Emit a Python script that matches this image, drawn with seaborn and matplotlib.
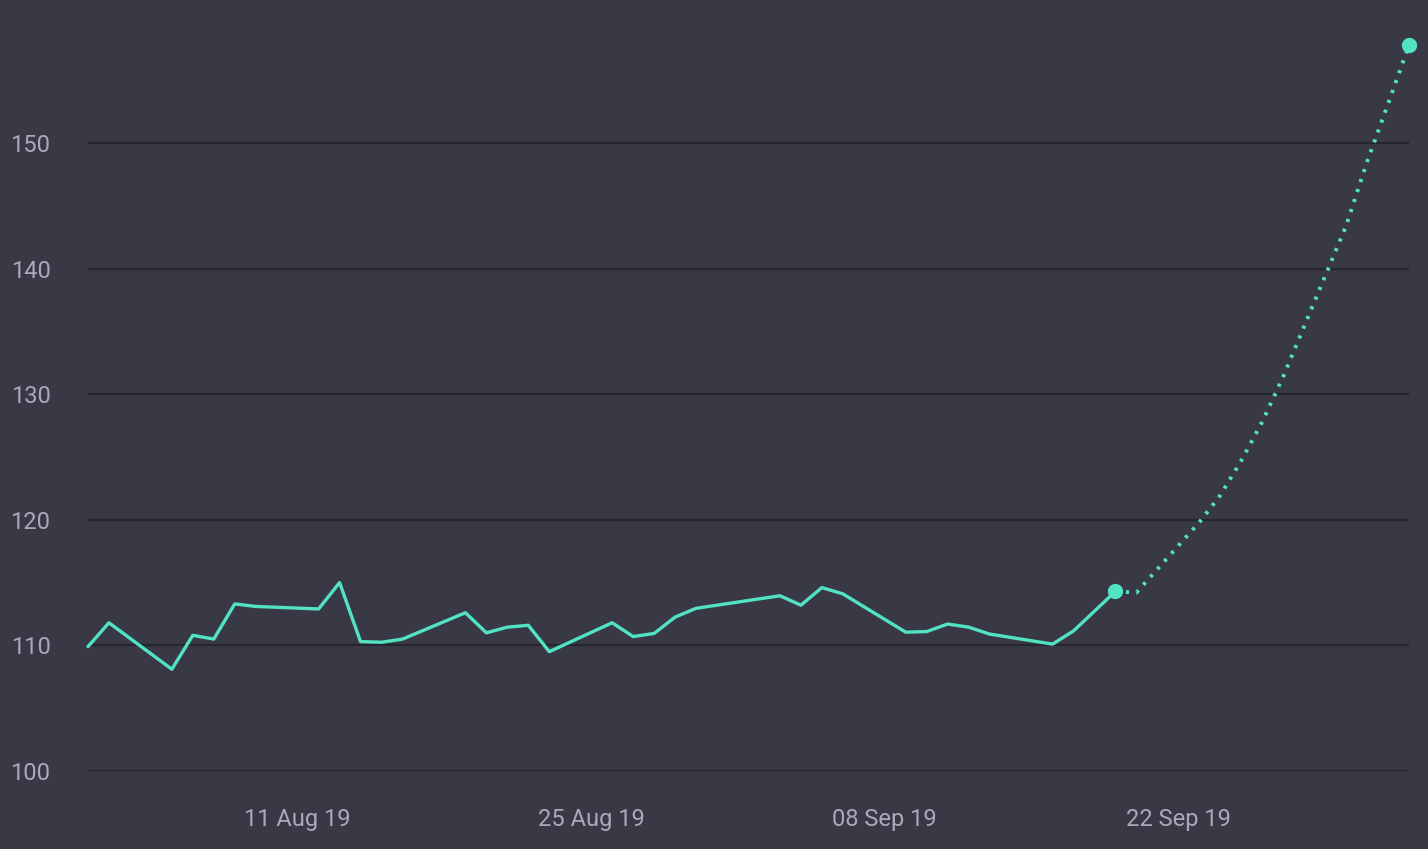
import seaborn as sns
import matplotlib.pyplot as plt
import matplotlib.dates as mdates
import pandas as pd

# Observed series (trading days)
actual_dates = [
    '2019-08-01', '2019-08-02', '2019-08-05', '2019-08-06', '2019-08-07', '2019-08-08', '2019-08-09',
    '2019-08-12', '2019-08-13', '2019-08-14', '2019-08-15', '2019-08-16',
    '2019-08-19', '2019-08-20', '2019-08-21', '2019-08-22', '2019-08-23',
    '2019-08-26', '2019-08-27', '2019-08-28', '2019-08-29', '2019-08-30',
    '2019-09-03', '2019-09-04', '2019-09-05', '2019-09-06',
    '2019-09-09', '2019-09-10', '2019-09-11', '2019-09-12', '2019-09-13',
    '2019-09-16', '2019-09-17', '2019-09-19',
]
actual_values = [
    109.9, 111.8, 108.1, 110.8, 110.5, 113.3, 113.1,
    112.9, 115.0, 110.3, 110.25, 110.5,
    112.6, 111.0, 111.45, 111.6, 109.5,
    111.8, 110.7, 110.95, 112.25, 112.95,
    113.95, 113.2, 114.6, 114.1,
    111.05, 111.1, 111.7, 111.45, 110.9,
    110.1, 111.15, 114.3,
]

# Forecast series
forecast_dates = [
    '2019-09-19', '2019-09-20', '2019-09-23', '2019-09-24', '2019-09-25', '2019-09-26',
    '2019-09-27', '2019-09-30', '2019-10-01', '2019-10-02', '2019-10-03',
]
forecast_values = [114.3, 114.2, 119.8, 121.95, 124.7, 127.8, 131.4, 143.4, 148.5, 153.1, 157.8]

y_ticks = [100, 110, 120, 130, 140, 150]
x_ticks = ['2019-08-11', '2019-08-25', '2019-09-08', '2019-09-22']

bg = '#393945'
line_color = '#52e3c2'
grid_color = '#26262e'
text_color = '#a9a9b9'

actual = pd.DataFrame({'date': pd.to_datetime(actual_dates), 'value': actual_values})
forecast = pd.DataFrame({'date': pd.to_datetime(forecast_dates), 'value': forecast_values})

sns.set_style('dark')
plt.rcParams['font.family'] = ['Roboto', 'DejaVu Sans']

fig = plt.figure(figsize=(14.28, 8.49), dpi=100, facecolor=bg)
ax = fig.add_axes([0.0616, 0.0919, 0.9251, 0.8551])
ax.set_facecolor(bg)

sns.lineplot(data=forecast, x='date', y='value', ax=ax, color=line_color,
             linewidth=2.8, linestyle=(0, (0.8, 1.9)), clip_on=False)
sns.lineplot(data=actual, x='date', y='value', ax=ax, color=line_color,
             linewidth=2.4, clip_on=False)

# end-point markers
ends = pd.concat([actual.tail(1), forecast.tail(1)])
ax.plot(ends['date'], ends['value'], 'o', color=line_color, markersize=10,
        clip_on=False, zorder=5)

ax.set_xlim(pd.Timestamp('2019-08-01'), pd.Timestamp('2019-10-03'))
ax.set_ylim(100, 157.8)
ax.set_yticks(y_ticks)
ax.set_xticks(pd.to_datetime(x_ticks))
ax.xaxis.set_major_formatter(mdates.DateFormatter('%d %b %y'))

ax.grid(axis='y', color=grid_color, linewidth=1.6)
ax.grid(axis='x', visible=False)
for s in ax.spines.values():
    s.set_visible(False)
ax.tick_params(axis='both', length=0, labelsize=17, colors=text_color)
ax.tick_params(axis='y', pad=27)
ax.tick_params(axis='x', pad=27)
ax.set_xlabel('')
ax.set_ylabel('')

fig.savefig('out.png', dpi=100, facecolor=bg)
plt.close(fig)
